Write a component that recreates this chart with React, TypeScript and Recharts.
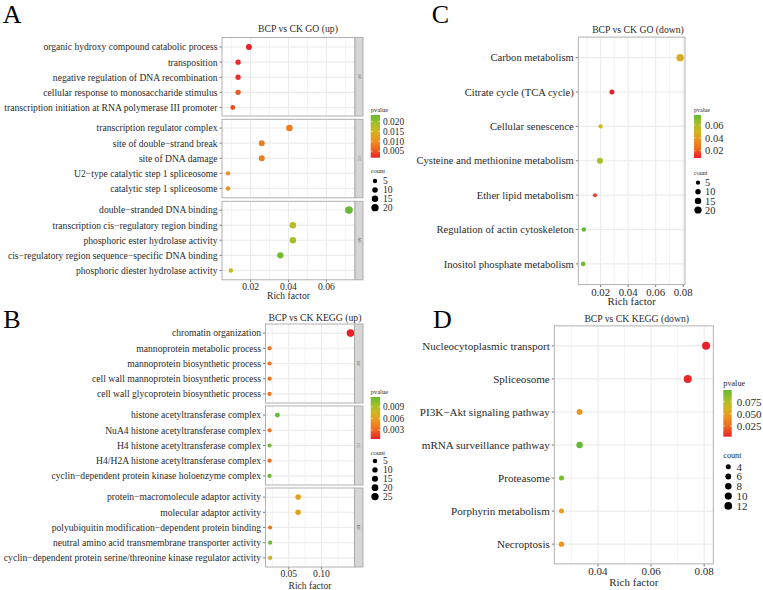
import React from 'react';
import { ScatterChart, Scatter, XAxis, YAxis, ReferenceLine } from 'recharts';

const SERIF = '"Liberation Serif", "Times New Roman", Times, serif';
const INK = '#2a2a2a';
const TICK = '#444444';
const GRID = '#ebebeb';
const BORDER = '#a8a8a8';
const STRIP = '#d6d6d6';

// ---------- A: BCP vs CK GO (up) ----------
const goUpBpTerms = [
  'organic hydroxy compound catabolic process',
  'transposition',
  'negative regulation of DNA recombination',
  'cellular response to monosaccharide stimulus',
  'transcription initiation at RNA polymerase III promoter',
];
const goUpBpRich = [0.0191, 0.0134, 0.0134, 0.0134, 0.0106];
const goUpBpPvalue = [0.0017, 0.0024, 0.0024, 0.0055, 0.0045];
const goUpBpCount = [12, 9, 9, 9, 7];

const goUpCcTerms = [
  'transcription regulator complex',
  'site of double\u2212strand break',
  'site of DNA damage',
  'U2\u2212type catalytic step 1 spliceosome',
  'catalytic step 1 spliceosome',
];
const goUpCcRich = [0.0405, 0.0259, 0.0259, 0.0081, 0.0081];
const goUpCcPvalue = [0.0085, 0.0082, 0.0082, 0.0105, 0.0105];
const goUpCcCount = [15, 12, 12, 5, 5];

const goUpMfTerms = [
  'double\u2212stranded DNA binding',
  'transcription cis\u2212regulatory region binding',
  'phosphoric ester hydrolase activity',
  'cis\u2212regulatory region sequence\u2212specific DNA binding',
  'phosphoric diester hydrolase activity',
];
const goUpMfRich = [0.0719, 0.0423, 0.0423, 0.0357, 0.0096];
const goUpMfPvalue = [0.0233, 0.0175, 0.019, 0.022, 0.0158];
const goUpMfCount = [22, 15, 15, 14, 5];

// ---------- B: BCP vs CK KEGG (up) ----------
const keggUpBpTerms = [
  'chromatin organization',
  'mannoprotein metabolic process',
  'mannoprotein biosynthetic process',
  'cell wall mannoprotein biosynthetic process',
  'cell wall glycoprotein biosynthetic process',
];
const keggUpBpRich = [0.1443, 0.0206, 0.0206, 0.0206, 0.0206];
const keggUpBpPvalue = [0.0007, 0.0036, 0.0036, 0.0036, 0.0036];
const keggUpBpCount = [28, 3, 3, 3, 3];

const keggUpCcTerms = [
  'histone acetyltransferase complex',
  'NuA4 histone acetyltransferase complex',
  'H4 histone acetyltransferase complex',
  'H4/H2A histone acetyltransferase complex',
  'cyclin\u2212dependent protein kinase holoenzyme complex',
];
const keggUpCcRich = [0.0325, 0.0206, 0.0206, 0.0206, 0.0206];
const keggUpCcPvalue = [0.0115, 0.0036, 0.0112, 0.0036, 0.0112];
const keggUpCcCount = [7, 3, 3, 3, 3];

const keggUpMfTerms = [
  'protein\u2212macromolecule adaptor activity',
  'molecular adaptor activity',
  'polyubiquitin modification\u2212dependent protein binding',
  'neutral amino acid transmembrane transporter activity',
  'cyclin\u2212dependent protein serine/threonine kinase regulator activity',
];
const keggUpMfRich = [0.0643, 0.0643, 0.0215, 0.0215, 0.0215];
const keggUpMfPvalue = [0.0062, 0.0062, 0.0036, 0.0112, 0.0078];
const keggUpMfCount = [11, 11, 3, 3, 3];

// ---------- C: BCP vs CK GO (down) ----------
const goDownTerms = [
  'Carbon metabolism',
  'Citrate cycle (TCA cycle)',
  'Cellular senescence',
  'Cysteine and methionine metabolism',
  'Ether lipid metabolism',
  'Regulation of actin cytoskeleton',
  'Inositol phosphate metabolism',
];
const goDownRich = [0.0778, 0.0282, 0.02, 0.0195, 0.0159, 0.0078, 0.0073];
const goDownPvalue = [0.048, 0.0086, 0.052, 0.062, 0.0153, 0.0756, 0.074];
const goDownCount = [21, 8, 5, 13, 4, 6, 6];

// ---------- D: BCP vs CK KEGG (down) ----------
const keggDownTerms = [
  'Nucleocytoplasmic transport',
  'Spliceosome',
  'PI3K\u2212Akt signaling pathway',
  'mRNA surveillance pathway',
  'Proteasome',
  'Porphyrin metabolism',
  'Necroptosis',
];
const keggDownRich = [0.0807, 0.0738, 0.0331, 0.0331, 0.0263, 0.0263, 0.0263];
const keggDownPvalue = [0.003, 0.0055, 0.045, 0.099, 0.094, 0.052, 0.043];
const keggDownCount = [13, 13, 6, 8, 4, 4, 5];

// ---------- legend breaks & axis ticks ----------
const goUpPBreaks = [0.005, 0.01, 0.015, 0.02];
const goUpCountBreaks = [5, 10, 15, 20];
const keggUpPBreaks = [0.003, 0.006, 0.009];
const keggUpCountBreaks = [5, 10, 15, 20, 25];
const goDownPBreaks = [0.02, 0.04, 0.06];
const goDownCountBreaks = [5, 10, 15, 20];
const keggDownPBreaks = [0.025, 0.05, 0.075];
const keggDownCountBreaks = [4, 6, 8, 10, 12];

const goUpTicks = [0.02, 0.04, 0.06];
const goUpMinor = [0.01, 0.03, 0.05, 0.07];
const keggUpTicks = [0.05, 0.1];
const keggUpMinor = [0.025, 0.075, 0.125];
const goDownTicks = [0.02, 0.04, 0.06, 0.08];
const goDownMinor = [0.01, 0.03, 0.05, 0.07];
const keggDownTicks = [0.04, 0.06, 0.08];
const keggDownMinor = [0.03, 0.05, 0.07];

type Facet = { terms: string[]; rich: number[]; pvalue: number[]; count: number[]; strip?: string };

const goUp: Facet[] = [
  { terms: goUpBpTerms, rich: goUpBpRich, pvalue: goUpBpPvalue, count: goUpBpCount, strip: 'BP' },
  { terms: goUpCcTerms, rich: goUpCcRich, pvalue: goUpCcPvalue, count: goUpCcCount, strip: 'CC' },
  { terms: goUpMfTerms, rich: goUpMfRich, pvalue: goUpMfPvalue, count: goUpMfCount, strip: 'MF' },
];
const keggUp: Facet[] = [
  { terms: keggUpBpTerms, rich: keggUpBpRich, pvalue: keggUpBpPvalue, count: keggUpBpCount, strip: 'BP' },
  { terms: keggUpCcTerms, rich: keggUpCcRich, pvalue: keggUpCcPvalue, count: keggUpCcCount, strip: 'CC' },
  { terms: keggUpMfTerms, rich: keggUpMfRich, pvalue: keggUpMfPvalue, count: keggUpMfCount, strip: 'MF' },
];
const goDown: Facet[] = [{ terms: goDownTerms, rich: goDownRich, pvalue: goDownPvalue, count: goDownCount }];
const keggDown: Facet[] = [{ terms: keggDownTerms, rich: keggDownRich, pvalue: keggDownPvalue, count: keggDownCount }];

// ---------- colour & size scales ----------
const RAMP_COLORS = ['#e8202a', '#ee6a1e', '#ec9420', '#d2b41e', '#a4bf28', '#64ba34'];
const RAMP_STOPS = [0, 0.22, 0.42, 0.62, 0.8, 1];

function hexRgb(h: string) {
  const n = parseInt(h.slice(1), 16);
  return [(n >> 16) & 255, (n >> 8) & 255, n & 255];
}
function ramp(t: number) {
  const u = Math.max(0, Math.min(1, t));
  let k = 0;
  while (k < RAMP_STOPS.length - 2 && u > RAMP_STOPS[k + 1]) k++;
  const f = (u - RAMP_STOPS[k]) / (RAMP_STOPS[k + 1] - RAMP_STOPS[k]);
  const a = hexRgb(RAMP_COLORS[k]);
  const b = hexRgb(RAMP_COLORS[k + 1]);
  const c = a.map((v, i) => Math.round(v + (b[i] - v) * f));
  return `rgb(${c[0]},${c[1]},${c[2]})`;
}
function extent(list: number[]) {
  return [Math.min(...list), Math.max(...list)];
}
function expand(list: number[]): [number, number] {
  const [lo, hi] = extent(list);
  const d = (hi - lo) * 0.05;
  return [lo - d, hi + d];
}
function colorScale(facets: Facet[]) {
  const [lo, hi] = extent(facets.flatMap((f) => f.pvalue));
  return { lo, hi, fn: (p: number) => ramp((p - lo) / (hi - lo)) };
}
function sizeScale(facets: Facet[], rMin: number, rMax: number) {
  const [lo, hi] = extent(facets.flatMap((f) => f.count));
  return (c: number) =>
    Math.sqrt(rMin * rMin + ((rMax * rMax - rMin * rMin) * Math.max(0, c - lo)) / (hi - lo));
}

type PanelLayout = {
  chartLeft: number;
  plotLeft: number;
  plotRight: number;
  tops: number[];
  height: number;
  axisHeight: number;
  labelFont: number;
  tickFont: number;
  stripW: number;
};

const RIGHT_PAD = 14;

function FacetChart(props: {
  facet: Facet;
  top: number;
  showX: boolean;
  layout: PanelLayout;
  domain: [number, number];
  majors: number[];
  minors: number[];
  fmt: (v: number) => string;
  color: (p: number) => string;
  size: (c: number) => number;
}) {
  const { facet, top, showX, layout, domain, majors, minors, fmt, color, size } = props;
  const rows = facet.terms.map((term, i) => ({
    term,
    pos: i + 1,
    rich: facet.rich[i],
    pvalue: facet.pvalue[i],
    count: facet.count[i],
  }));
  const n = rows.length;
  const width = layout.plotRight - layout.chartLeft + RIGHT_PAD;
  const h = layout.height + (showX ? layout.axisHeight : 0);
  return (
    <div style={{ position: 'absolute', left: layout.chartLeft, top, width, height: h }}>
      <ScatterChart width={width} height={h} margin={{ top: 0, right: RIGHT_PAD, bottom: 0, left: 0 }}>
        <XAxis
          type="number"
          dataKey="rich"
          domain={domain}
          allowDataOverflow
          ticks={majors}
          interval={0}
          hide={!showX}
          height={layout.axisHeight}
          axisLine={false}
          tickSize={2.5}
          tickMargin={1}
          tickLine={{ stroke: TICK, strokeWidth: 0.7 }}
          tick={(p: any) => (
            <text
              x={p.x}
              y={p.y}
              dy="0.71em"
              textAnchor="middle"
              fontSize={layout.tickFont}
              fontFamily={SERIF}
              fill={INK}
            >
              {fmt(p.payload.value)}
            </text>
          )}
          label={{
            value: 'Rich factor',
            position: 'insideBottom',
            offset: 1,
            fontSize: layout.tickFont,
            fontFamily: SERIF,
            fill: INK,
          }}
        />
        <YAxis
          type="number"
          dataKey="pos"
          domain={[0.4, n + 0.6]}
          allowDataOverflow
          reversed
          ticks={rows.map((r) => r.pos)}
          interval={0}
          width={layout.plotLeft - layout.chartLeft}
          axisLine={false}
          tickSize={2.5}
          tickMargin={2}
          tickLine={{ stroke: TICK, strokeWidth: 0.7 }}
          tick={(p: any) => (
            <text
              x={p.x}
              y={p.y}
              dy="0.35em"
              textAnchor="end"
              fontSize={layout.labelFont}
              fontFamily={SERIF}
              fill={INK}
            >
              {facet.terms[p.payload.value - 1]}
            </text>
          )}
        />
        {minors.map((v) => (
          <ReferenceLine key={'minor' + v} x={v} stroke={GRID} strokeWidth={0.6} />
        ))}
        {majors.map((v) => (
          <ReferenceLine key={'major' + v} x={v} stroke={GRID} strokeWidth={1.1} />
        ))}
        {rows.map((r) => (
          <ReferenceLine key={'row' + r.pos} y={r.pos} stroke={GRID} strokeWidth={1.1} />
        ))}
        <Scatter
          data={rows}
          isAnimationActive={false}
          shape={(p: any) => (
            <circle cx={p.cx} cy={p.cy} r={size(p.payload.count)} fill={color(p.payload.pvalue)} />
          )}
        />
      </ScatterChart>
    </div>
  );
}

function Panel(props: {
  facets: Facet[];
  layout: PanelLayout;
  majors: number[];
  minors: number[];
  fmt: (v: number) => string;
  color: (p: number) => string;
  size: (c: number) => number;
}) {
  const { facets, layout } = props;
  const domain = expand(facets.flatMap((f) => f.rich));
  return (
    <>
      {facets.map((f, i) => (
        <FacetChart
          key={i}
          facet={f}
          top={layout.tops[i]}
          showX={i === facets.length - 1}
          layout={layout}
          domain={domain}
          majors={props.majors}
          minors={props.minors}
          fmt={props.fmt}
          color={props.color}
          size={props.size}
        />
      ))}
    </>
  );
}

function PanelFrames({ facets, layout }: { facets: Facet[]; layout: PanelLayout }) {
  return (
    <g>
      {facets.map((f, i) => (
        <g key={i}>
          <rect
            x={layout.plotLeft}
            y={layout.tops[i]}
            width={layout.plotRight - layout.plotLeft}
            height={layout.height}
            fill="none"
            stroke={BORDER}
            strokeWidth={0.9}
          />
          {f.strip && (
            <g>
              <rect
                x={layout.plotRight}
                y={layout.tops[i]}
                width={layout.stripW}
                height={layout.height}
                fill={STRIP}
                stroke={BORDER}
                strokeWidth={0.9}
              />
              <text
                transform={`translate(${layout.plotRight + layout.stripW / 2}, ${
                  layout.tops[i] + layout.height / 2
                }) rotate(90)`}
                textAnchor="middle"
                dy="0.35em"
                fontSize={4}
                fontFamily={SERIF}
                fill="#555"
              >
                {f.strip}
              </text>
            </g>
          )}
        </g>
      ))}
    </g>
  );
}

function ColorKey(props: {
  id: string;
  x: number;
  y: number;
  w: number;
  h: number;
  lo: number;
  hi: number;
  breaks: number[];
  fmt: (v: number) => string;
  labelX: number;
  labelFont: number;
  titleY: number;
  titleFont: number;
}) {
  const { id, x, y, w, h, lo, hi, breaks, fmt, labelX, labelFont, titleY, titleFont } = props;
  return (
    <g>
      <defs>
        <linearGradient id={id} x1="0" y1="1" x2="0" y2="0">
          {RAMP_STOPS.map((s, i) => (
            <stop key={i} offset={s} stopColor={RAMP_COLORS[i]} />
          ))}
        </linearGradient>
      </defs>
      <text x={x} y={titleY} dy="0.35em" fontSize={titleFont} fontFamily={SERIF} fill={INK}>
        pvalue
      </text>
      <rect x={x} y={y} width={w} height={h} fill={`url(#${id})`} />
      {breaks.map((b) => {
        const by = y + h - ((b - lo) / (hi - lo)) * h;
        return (
          <g key={b}>
            <line x1={x} x2={x + w * 0.2} y1={by} y2={by} stroke="#fff" strokeWidth={0.6} />
            <line x1={x + w * 0.8} x2={x + w} y1={by} y2={by} stroke="#fff" strokeWidth={0.6} />
            <text x={labelX} y={by} dy="0.35em" fontSize={labelFont} fontFamily={SERIF} fill={INK}>
              {fmt(b)}
            </text>
          </g>
        );
      })}
    </g>
  );
}

function SizeKey(props: {
  x: number;
  y0: number;
  step: number;
  breaks: number[];
  size: (c: number) => number;
  labelX: number;
  labelFont: number;
  titleX: number;
  titleY: number;
  titleFont: number;
}) {
  const { x, y0, step, breaks, size, labelX, labelFont, titleX, titleY, titleFont } = props;
  return (
    <g>
      <text x={titleX} y={titleY} dy="0.35em" fontSize={titleFont} fontFamily={SERIF} fill={INK}>
        count
      </text>
      {breaks.map((b, i) => (
        <g key={b}>
          <circle cx={x} cy={y0 + i * step} r={size(b)} fill="#000" />
          <text x={labelX} y={y0 + i * step} dy="0.35em" fontSize={labelFont} fontFamily={SERIF} fill={INK}>
            {b}
          </text>
        </g>
      ))}
    </g>
  );
}

const layoutA: PanelLayout = {
  chartLeft: 0,
  plotLeft: 222,
  plotRight: 355,
  tops: [37.5, 119.3, 201.3],
  height: 78.5,
  axisHeight: 20,
  labelFont: 9.6,
  tickFont: 9.6,
  stripW: 8,
};
const layoutB: PanelLayout = {
  chartLeft: 0,
  plotLeft: 265.5,
  plotRight: 354.5,
  tops: [324, 406, 488],
  height: 79,
  axisHeight: 22.5,
  labelFont: 9.6,
  tickFont: 9.6,
  stripW: 8.5,
};
const layoutC: PanelLayout = {
  chartLeft: 400,
  plotLeft: 578.3,
  plotRight: 685,
  tops: [37.1],
  height: 247.5,
  axisHeight: 21.5,
  labelFont: 10.6,
  tickFont: 10.8,
  stripW: 0,
};
const layoutD: PanelLayout = {
  chartLeft: 400,
  plotLeft: 554.3,
  plotRight: 713.3,
  tops: [325.9],
  height: 238,
  axisHeight: 23.5,
  labelFont: 11.1,
  tickFont: 11,
  stripW: 0,
};

const fmt2 = (v: number) => v.toFixed(2);
const fmt3 = (v: number) => v.toFixed(3);

export default function App() {
  const colA = colorScale(goUp);
  const colB = colorScale(keggUp);
  const colC = colorScale(goDown);
  const colD = colorScale(keggDown);
  const sizeA = sizeScale(goUp, 2.2, 3.8);
  const sizeB = sizeScale(keggUp, 2.1, 3.8);
  const sizeC = sizeScale(goDown, 2.0, 3.7);
  const sizeD = sizeScale(keggDown, 2.5, 4.0);

  return (
    <div
      style={{
        position: 'absolute',
        left: 0,
        top: 0,
        width: 763,
        height: 590,
        background: '#fff',
        overflow: 'hidden',
        fontFamily: SERIF,
      }}
    >
      <Panel facets={goUp} layout={layoutA} majors={goUpTicks} minors={goUpMinor} fmt={fmt2} color={colA.fn} size={sizeA} />
      <Panel facets={keggUp} layout={layoutB} majors={keggUpTicks} minors={keggUpMinor} fmt={fmt2} color={colB.fn} size={sizeB} />
      <Panel facets={goDown} layout={layoutC} majors={goDownTicks} minors={goDownMinor} fmt={fmt2} color={colC.fn} size={sizeC} />
      <Panel facets={keggDown} layout={layoutD} majors={keggDownTicks} minors={keggDownMinor} fmt={fmt2} color={colD.fn} size={sizeD} />

      <svg
        width={763}
        height={590}
        style={{ position: 'absolute', left: 0, top: 0, pointerEvents: 'none' }}
      >
        <PanelFrames facets={goUp} layout={layoutA} />
        <PanelFrames facets={keggUp} layout={layoutB} />
        <PanelFrames facets={goDown} layout={layoutC} />
        <PanelFrames facets={keggDown} layout={layoutD} />

        {/* panel letters */}
        <text x={2.7} y={23} fontSize={26} fontFamily={SERIF} fill="#000">A</text>
        <text x={3.3} y={328} fontSize={26} fontFamily={SERIF} fill="#000">B</text>
        <text x={431.7} y={23.3} fontSize={26} fontFamily={SERIF} fill="#000">C</text>
        <text x={433} y={328.3} fontSize={26} fontFamily={SERIF} fill="#000">D</text>

        {/* plot titles */}
        <text x={298} y={31.8} textAnchor="middle" fontSize={9.7} fontFamily={SERIF} fill={INK}>BCP vs CK GO (up)</text>
        <text x={315} y={321} textAnchor="middle" fontSize={9.7} fontFamily={SERIF} fill={INK}>BCP vs CK KEGG (up)</text>
        <text x={638} y={33.3} textAnchor="middle" fontSize={9.7} fontFamily={SERIF} fill={INK}>BCP vs CK GO (down)</text>
        <text x={636.7} y={322.3} textAnchor="middle" fontSize={9.7} fontFamily={SERIF} fill={INK}>BCP vs CK KEGG (down)</text>

        {/* legends */}
        <ColorKey id="gA" x={370.7} y={115} w={9.3} h={42.7} lo={colA.lo} hi={colA.hi} breaks={goUpPBreaks} fmt={fmt3} labelX={383} labelFont={9.4} titleY={110} titleFont={6.5} />
        <SizeKey x={375} y0={181} step={8.9} breaks={goUpCountBreaks} size={sizeA} labelX={383} labelFont={9.6} titleX={370.7} titleY={171} titleFont={6.5} />

        <ColorKey id="gB" x={370.7} y={397} w={9.5} h={42} lo={colB.lo} hi={colB.hi} breaks={keggUpPBreaks} fmt={fmt3} labelX={383} labelFont={9.4} titleY={391.5} titleFont={6.5} />
        <SizeKey x={375} y0={461} step={8.9} breaks={keggUpCountBreaks} size={sizeB} labelX={383} labelFont={9.6} titleX={370.7} titleY={453} titleFont={6.5} />

        <ColorKey id="gC" x={694} y={115} w={7} h={43} lo={colC.lo} hi={colC.hi} breaks={goDownPBreaks} fmt={fmt2} labelX={705} labelFont={10.5} titleY={110} titleFont={6} />
        <SizeKey x={698} y0={182.7} step={9.1} breaks={goDownCountBreaks} size={sizeC} labelX={705} labelFont={10.4} titleX={694} titleY={172.7} titleFont={6} />

        <ColorKey id="gD" x={723.3} y={390} w={8.4} h={46.7} lo={colD.lo} hi={colD.hi} breaks={keggDownPBreaks} fmt={fmt3} labelX={736.7} labelFont={11} titleY={383.3} titleFont={8.2} />
        <SizeKey x={728.3} y0={466.7} step={9.8} breaks={keggDownCountBreaks} size={sizeD} labelX={736.5} labelFont={11} titleX={723.3} titleY={455} titleFont={8.2} />
      </svg>
    </div>
  );
}
